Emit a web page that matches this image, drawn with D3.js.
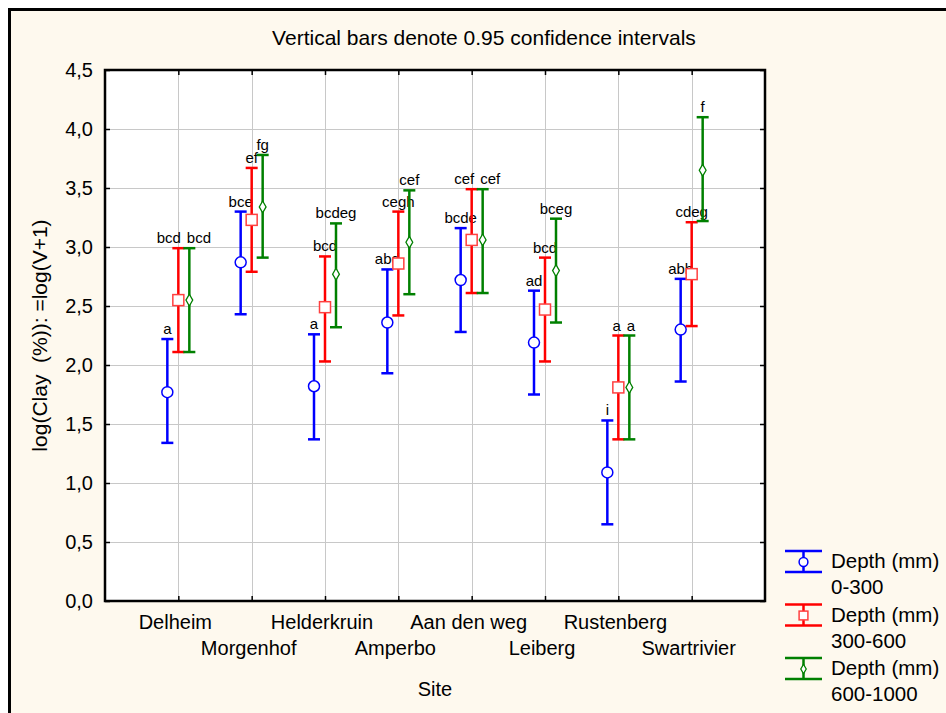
<!DOCTYPE html>
<html>
<head>
<meta charset="utf-8">
<script src="https://cdn.jsdelivr.net/npm/d3@7"></script>
<style>
  body { margin: 0; background: #ffffff; }
  text { font-family: "Liberation Sans", Arial, sans-serif; fill: #000; }
</style>
</head>
<body>
<div id="chart"></div>
<script>
// sites along the x axis
var sites = ["Delheim", "Morgenhof", "Helderkruin", "Amperbo", "Aan den weg", "Leiberg", "Rustenberg", "Swartrivier"];
var seriesNames = ["0-300", "300-600", "600-1000"];
var yTicks = [0, 0.5, 1, 1.5, 2, 2.5, 3, 3.5, 4, 4.5];

// means and 0.95 CI bounds, one array per depth
var mean0 = [1.77, 2.87, 1.82, 2.36, 2.72, 2.19, 1.09, 2.30];
var lo0   = [1.34, 2.43, 1.37, 1.93, 2.28, 1.75, 0.65, 1.86];
var hi0   = [2.22, 3.30, 2.26, 2.81, 3.16, 2.63, 1.53, 2.73];
var mean1 = [2.55, 3.23, 2.49, 2.86, 3.06, 2.47, 1.81, 2.77];
var lo1   = [2.11, 2.79, 2.03, 2.42, 2.61, 2.03, 1.37, 2.33];
var hi1   = [2.99, 3.67, 2.92, 3.30, 3.49, 2.91, 2.25, 3.21];
var mean2 = [2.55, 3.34, 2.77, 3.04, 3.06, 2.80, 1.81, 3.65];
var lo2   = [2.11, 2.91, 2.32, 2.60, 2.61, 2.36, 1.37, 3.22];
var hi2   = [2.99, 3.78, 3.20, 3.48, 3.49, 3.24, 2.25, 4.10];

// significance letters above each bar
var letters0 = ["a", "bce", "a", "abd", "bcde", "ad", "i", "abh"];
var letters1 = ["bcd", "ef", "bcd", "cegh", "cef", "bcd", "a", "cdeg"];
var letters2 = ["bcd", "fg", "bcdeg", "cef", "cef", "bceg", "a", "f"];

var colors = ["#0000ff", "#ff0000", "#008000"];

var W = 946, H = 713;
var margin = {top: 70, right: 181, bottom: 112, left: 105};
var pw = W - margin.left - margin.right,
    ph = H - margin.top - margin.bottom;

var svg = d3.select("#chart").append("svg")
    .attr("width", W).attr("height", H);

// cream panel with black frame on top/left
svg.append("rect").attr("x", 8).attr("y", 8).attr("width", W).attr("height", H)
    .attr("fill", "#fef9ee");
svg.append("path").attr("d", "M9.5," + H + "V9.5H" + W)
    .attr("fill", "none").attr("stroke", "#000").attr("stroke-width", 3);

svg.append("text").attr("x", 484).attr("y", 45)
    .attr("text-anchor", "middle").style("font-size", "21px")
    .text("Vertical bars denote 0.95 confidence intervals");

var g = svg.append("g").attr("transform", "translate(" + margin.left + "," + margin.top + ")");

g.append("rect").attr("width", pw).attr("height", ph).attr("fill", "#fff");

var x = d3.scalePoint().domain(sites).range([0, pw]).padding(1);
var y = d3.scaleLinear().domain([0, 4.5]).range([ph, 0]);
var off = d3.scalePoint().domain([0, 1, 2]).range([-11, 11]);

// grid
g.append("g").selectAll("line").data(yTicks.slice(1, -1)).enter().append("line")
    .attr("x1", 0).attr("x2", pw)
    .attr("y1", function(d) { return Math.round(y(d)) + 0.5; })
    .attr("y2", function(d) { return Math.round(y(d)) + 0.5; })
    .attr("stroke", "#c8c8c8");
g.append("g").selectAll("line").data(sites).enter().append("line")
    .attr("y1", 0).attr("y2", ph)
    .attr("x1", function(d) { return Math.round(x(d)) + 0.5; })
    .attr("x2", function(d) { return Math.round(x(d)) + 0.5; })
    .attr("stroke", "#c8c8c8");

// axes with inward ticks
var yAxis = g.append("g")
    .call(d3.axisLeft(y).tickValues(yTicks).tickSize(-5).tickPadding(12)
      .tickFormat(function(d) { return d3.format(".1f")(d).replace(".", ","); }));
g.append("g").attr("transform", "translate(" + pw + ",0)")
    .call(d3.axisRight(y).tickValues(yTicks).tickSize(-5).tickFormat(""));
var xAxis = g.append("g").attr("transform", "translate(0," + ph + ")")
    .call(d3.axisBottom(x).tickSize(-5).tickFormat(""));
g.append("g").call(d3.axisTop(x).tickSize(-5).tickFormat(""));
g.selectAll(".domain").remove();
g.selectAll(".tick line").attr("stroke", "#000").attr("stroke-width", 1.5);
yAxis.selectAll("text").style("font-size", "20px").attr("fill", "#000");

g.append("rect").attr("width", pw).attr("height", ph)
    .attr("fill", "none").attr("stroke", "#000").attr("stroke-width", 2.5);

// staggered site labels
g.append("g").selectAll("text").data(sites).enter().append("text")
    .attr("x", function(d) { return x(d) - 3; })
    .attr("y", function(d, i) { return ph + (i % 2 === 0 ? 28 : 54); })
    .attr("text-anchor", "middle").style("font-size", "20px")
    .text(function(d) { return d; });

g.append("text").attr("x", pw / 2).attr("y", ph + 95)
    .attr("text-anchor", "middle").style("font-size", "20px").text("Site");

svg.append("text")
    .attr("transform", "translate(47," + (margin.top + ph / 2) + ") rotate(-90)")
    .attr("text-anchor", "middle").style("font-size", "21px")
    .style("white-space", "pre")
    .text("log(Clay  (%)): =log(V+1)");

var means = [mean0, mean1, mean2], los = [lo0, lo1, lo2], his = [hi0, hi1, hi2];
var letters = [letters0, letters1, letters2];

function marker(sel, k, s) {
  if (k === 0) {
    sel.append("circle").attr("r", 5.5 * s).attr("fill", "#fff")
      .attr("stroke", colors[0]).attr("stroke-width", 1.5);
  } else if (k === 1) {
    sel.append("rect").attr("x", -5.5 * s).attr("y", -5.5 * s)
      .attr("width", 11 * s).attr("height", 11 * s).attr("fill", "#fff")
      .attr("stroke", "#ff4040").attr("stroke-width", 1.5);
  } else {
    sel.append("path").attr("d", d3.symbol().type(d3.symbolDiamond).size(40 * s * s))
      .attr("fill", "#fff").attr("stroke", colors[2]).attr("stroke-width", 1.3);
  }
}

var labelNodes = [];
[0, 1, 2].forEach(function(k) {
  var data = sites.map(function(s, i) {
    return {site: s, i: i, m: means[k][i], lo: los[k][i], hi: his[k][i], lab: letters[k][i]};
  });
  var sg = g.append("g").attr("stroke", colors[k]);
  var bars = sg.selectAll("g").data(data).enter().append("g")
      .attr("transform", function(d) { return "translate(" + (x(d.site) + off(k)) + ",0)"; });
  bars.append("line").attr("y1", function(d) { return y(d.lo); })
      .attr("y2", function(d) { return y(d.hi); }).attr("stroke-width", 2.5);
  bars.append("line").attr("x1", -6).attr("x2", 6)
      .attr("y1", function(d) { return y(d.lo); }).attr("y2", function(d) { return y(d.lo); })
      .attr("stroke-width", 2.5);
  bars.append("line").attr("x1", -6).attr("x2", 6)
      .attr("y1", function(d) { return y(d.hi); }).attr("y2", function(d) { return y(d.hi); })
      .attr("stroke-width", 2.5);
  bars.each(function(d) {
    var mg = d3.select(this).append("g").attr("transform", "translate(0," + y(d.m) + ")");
    marker(mg, k, 1);
  });
  data.forEach(function(d) {
    var t = g.append("text").attr("x", x(d.site) + off(k)).attr("y", y(d.hi) - 5)
      .attr("text-anchor", "middle").style("font-size", "15px").text(d.lab);
    labelNodes.push({node: t, cx: x(d.site) + off(k), y: y(d.hi) - 5, w: t.node().getComputedTextLength(), i: d.i, k: k});
  });
});

// push apart letter labels that collide on the same line
sites.forEach(function(s, i) {
  var ls = labelNodes.filter(function(l) { return l.i === i; }).sort(function(a, b) { return a.k - b.k; });
  for (var a = 0; a < ls.length; a++) {
    for (var b = a + 1; b < ls.length; b++) {
      var A = ls[a], B = ls[b];
      if (Math.abs(A.y - B.y) < 12) {
        var need = (A.w + B.w) / 2 + 6 - (B.cx - A.cx);
        if (need > 0) { A.cx -= need / 2; B.cx += need / 2; }
      }
    }
  }
  ls.forEach(function(l) { l.node.attr("x", l.cx); });
});

// legend
var leg = svg.append("g").attr("transform", "translate(785,551)");
seriesNames.forEach(function(n, k) {
  var lg = leg.append("g").attr("transform", "translate(0," + (k * 53.5) + ")");
  lg.append("line").attr("x1", 0).attr("x2", 37).attr("y1", 0).attr("y2", 0)
    .attr("stroke", colors[k]).attr("stroke-width", 2.5);
  lg.append("line").attr("x1", 0).attr("x2", 37).attr("y1", 21).attr("y2", 21)
    .attr("stroke", colors[k]).attr("stroke-width", 2.5);
  lg.append("line").attr("x1", 18.5).attr("x2", 18.5).attr("y1", 0).attr("y2", 21)
    .attr("stroke", colors[k]).attr("stroke-width", 2.5);
  var mg = lg.append("g").attr("transform", "translate(18.5,11)");
  marker(mg, k, 0.8);
  lg.append("text").attr("x", 46).attr("y", 17).style("font-size", "20.5px").text("Depth (mm)");
  lg.append("text").attr("x", 46).attr("y", 43).style("font-size", "20.5px").text(n);
});
</script>
</body>
</html>
